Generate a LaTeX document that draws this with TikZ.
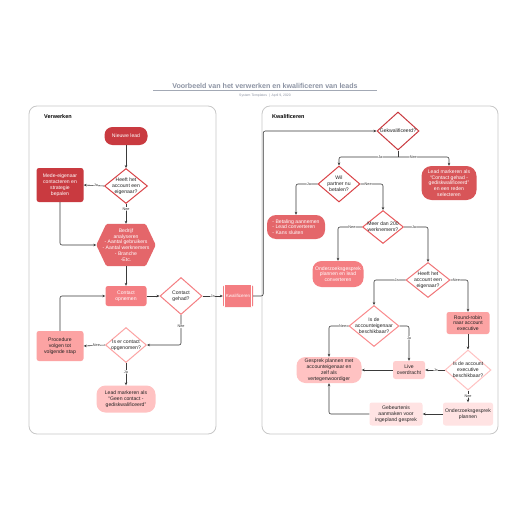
\documentclass[tikz,border=0pt]{standalone}
\usepackage{fontspec}
\setmainfont{Liberation Sans}
\usetikzlibrary{arrows.meta,shapes.geometric,calc}
\definecolor{cA}{HTML}{C93A40}
\definecolor{cB}{HTML}{D85558}
\definecolor{cC}{HTML}{E4666A}
\definecolor{cD}{HTML}{F47E82}
\definecolor{cE}{HTML}{FCA3A3}
\definecolor{cF}{HTML}{FFC2C2}
\definecolor{cG}{HTML}{FFCFCF}
\definecolor{cH}{HTML}{FFE3E3}
\definecolor{dA}{HTML}{D94347}
\definecolor{dB}{HTML}{E95B5E}
\definecolor{dC}{HTML}{F07578}
\definecolor{dD}{HTML}{FA8A8D}
\definecolor{cline}{HTML}{3A3A3A}
\definecolor{panel}{HTML}{C8C8C8}
\definecolor{ttl}{HTML}{8C93A3}
\definecolor{txt}{HTML}{222222}
\newcommand{\dtx}[1]{\raisebox{-3.4pt}{\smash{\makebox[0pt]{\begin{tabular}{@{}c@{}}#1\end{tabular}}}}}
\tikzset{
  base/.style={font=\fontsize{5.1}{5.8}\selectfont, align=center, inner sep=1pt, text=txt},
  boxnode/.style={base, rectangle, rounded corners=2.5pt, fill=#1},
  pill/.style={base, rectangle, rounded corners=9pt, fill=#1},
  dia/.style={shape=diamond, draw=#1, fill=white, line width=1pt, inner sep=0pt,
    font=\fontsize{5.1}{5.6}\selectfont, text=txt},
  conn/.style={draw=cline, line width=0.6pt, -{Stealth[length=3pt,width=2.6pt]}, rounded corners=2pt},
  plain/.style={draw=cline, line width=0.6pt},
  lbl/.style={fill=white, inner sep=0.4pt, font=\fontsize{3.8}{4}\selectfont, text=cline},
  panelbox/.style={draw=panel, line width=0.8pt, fill=white, rounded corners=8pt},
  head/.style={font=\bfseries\fontsize{5.5}{6}\selectfont, anchor=west, inner sep=0pt}
}
\begin{document}
\begin{tikzpicture}[x=1pt,y=-1pt]
\useasboundingbox (0,0) rectangle (516,516);
\fill[white] (0,0) rectangle (516,516);
% title
\node[font=\bfseries\fontsize{7.1}{7.5}\selectfont, text=ttl, inner sep=0pt] (title) at (265,86) {Voorbeeld van het verwerken en kwalificeren van leads};
\draw[ttl!80, line width=0.7pt] (153,90.5) -- (377,90.5);
\node[font=\fontsize{3.4}{4}\selectfont, text=ttl, inner sep=0pt] (sub) at (265,96) {System Templates \ | \ April 9, 2020};
% panels
\draw[panelbox] (29,106) rectangle (216,434);
\draw[panelbox] (262,106) rectangle (498,434);
\node[head] (h1) at (44,117) {Verwerken};
\node[head] (h2t) at (272,117) {Kwalificeren};

% ---------- left nodes
\node[pill=cA, text=white, minimum width=43pt, minimum height=18pt, rounded corners=8pt] (newlead) at (126,136) {Nieuwe lead};
\node[dia=dA, minimum width=43pt, minimum height=35pt] (d1) at (126,186) {\dtx{Heeft het\\account een\\eigenaar?}};
\node[boxnode=cA, text=white, minimum width=47pt, minimum height=34pt] (mede) at (60,185) {Mede-eigenaar\\contacteren en\\strategie\\bepalen};
\node[base, minimum width=59pt, minimum height=42pt, text=white] (hex) at (126,245) {};
\fill[cC, rounded corners=1.5pt] (hex.west) -- ($(hex.north west)+(10,0)$) -- ($(hex.north east)+(-10,0)$) -- (hex.east) -- ($(hex.south east)+(-10,0)$) -- ($(hex.south west)+(10,0)$) -- cycle;
\node[base, text=white] (hext) at (hex.center) {Bedrijf\\analyseren\\- Aantal gebruikers\\- Aantal werknemers\\- Branche\\-Etc.};
\node[boxnode=cD, text=white, minimum width=41pt, minimum height=20pt] (contact) at (126,296) {Contact\\opnemen};
\node[dia=cD, minimum width=42pt, minimum height=37pt] (d2) at (181,296) {\dtx{Contact\\gehad?}};
\node[boxnode=cD, text=white, minimum width=30pt, minimum height=22pt, rounded corners=1.5pt, inner sep=0pt, font=\fontsize{4.5}{5}\selectfont] (kwal) at (238,296) {Kwalificeren};
\draw[white, line width=0.5pt] ($(kwal.north west)+(1.8,0)$) -- ($(kwal.south west)+(1.8,0)$);
\draw[white, line width=0.5pt] ($(kwal.north east)+(-1.8,0)$) -- ($(kwal.south east)+(-1.8,0)$);
\node[dia=cE, minimum width=41pt, minimum height=35pt] (d3) at (126,345) {\dtx{Is er contact\\opgenomen?}};
\node[boxnode=cE, minimum width=47pt, minimum height=30pt] (proc) at (60,346) {Procedure\\volgen tot\\volgende stap};
\node[pill=cF, minimum width=59pt, minimum height=27pt] (geen) at (126,399) {Lead markeren als\\``Geen contact -\\gediskwalificeerd''};

% ---------- right nodes
\node[dia=cA, minimum width=42pt, minimum height=38pt] (g) at (398,131) {\dtx{Gekwalificeerd?}};
\coordinate (gs) at (398,157);
\node[dia=dA, minimum width=42pt, minimum height=36pt] (wil) at (339,184) {\dtx{Wil\\partner nu\\betalen?}};
\node[pill=cB, text=white, minimum width=55pt, minimum height=34pt, rounded corners=10pt] (lmc) at (449,183) {Lead markeren als\\``Contact gehad -\\gediskwalificeerd''\\en een reden\\selecteren};
\node[pill=cC, text=white, minimum width=58pt, minimum height=24pt, align=left] (bet) at (296,227) {- Betaling aannemen\\- Lead converteren\\- Kans sluiten};
\node[dia=dB, minimum width=41pt, minimum height=33pt] (m200) at (383,227) {\dtx{Meer dan 200\\werknemers?}};
\node[pill=cD, text=white, minimum width=51pt, minimum height=26pt] (ond1) at (338,274) {Onderzoeksgesprek\\plannen en lead\\converteren};
\node[dia=dC, minimum width=44pt, minimum height=35pt] (h2) at (428,280) {\dtx{Heeft het\\account een\\eigenaar?}};
\node[dia=dD, minimum width=50pt, minimum height=41pt] (iae) at (374,326) {\dtx{Is de\\accounteigenaar\\beschikbaar?}};
\node[boxnode=cE, minimum width=43pt, minimum height=22pt] (rr) at (468,323) {Round-robin\\naar account\\executive};
\node[dia=cF, minimum width=46pt, minimum height=40pt] (iaex) at (468,370) {\dtx{Is de account\\executive\\beschikbaar?}};
\node[boxnode=cG, minimum width=32pt, minimum height=18pt] (live) at (409,370) {Live\\overdracht};
\node[pill=cF, minimum width=65pt, minimum height=26pt] (gesp) at (329,370) {Gesprek plannen met\\accounteigenaar en\\zelf als\\vertegenwoordiger};
\node[boxnode=cH, minimum width=50pt, minimum height=23pt] (ond2) at (468,414) {Onderzoeksgesprek\\plannen};
\node[boxnode=cH, minimum width=53pt, minimum height=23pt] (geb) at (396,414) {Gebeurtenis\\aanmaken voor\\ingepland gesprek};

% ---------- left connectors
\draw[conn] (newlead.south) -- (d1.north);
\draw[conn] (d1.west) -- node[lbl, pos=0.4]{Ja} (mede.east);
\draw[conn] (d1.south) -- node[lbl, pos=0.25]{Nee} (hex.north);
\draw[conn] (mede.south) |- (hex.west);
\draw[conn] (hex.south) -- (contact.north);
\draw[conn] (contact.east) -- (d2.west);
\draw[conn] (d2.east) -- node[lbl, pos=0.5]{Ja} (kwal.west);
\draw[conn] (d2.south) |- node[lbl, pos=0.19]{Nee} (d3.east);
\draw[conn] (d3.west) -- node[lbl, pos=0.4]{Nee} (proc.east);
\draw[conn] (proc.north) |- (contact.west);
\draw[conn] (d3.south) -- node[lbl, pos=0.4]{Ja} (geen.north);
\draw[conn] (kwal.east) -- ++(10,0) |- (g.west);

% ---------- right connectors
\draw[plain] (g.south) -- (gs);
\draw[conn] (gs) -| node[lbl, pos=0.15]{Ja} (wil.north);
\draw[conn] (gs) -| node[lbl, pos=0.15]{Nee} (lmc.north);
\draw[conn] (wil.west) -| node[lbl, pos=0.2]{Ja} (bet.north);
\draw[conn] (wil.east) -| node[lbl, pos=0.17]{Nee} (m200.north);
\draw[conn] (m200.west) -| node[lbl, pos=0.21]{Nee} (ond1.north);
\draw[conn] (m200.east) -| node[lbl, pos=0.21]{Ja} (h2.north);
\draw[conn] (h2.west) -| node[lbl, pos=0.14]{Ja} (iae.north);
\draw[conn] (h2.east) -| node[lbl, pos=0.17]{Nee} (rr.north);
\draw[conn] (rr.south) -- (iaex.north);
\draw[conn] (iae.west) -| node[lbl, pos=0.15]{Nee} (gesp.north);
\draw[conn] (iae.east) -| node[lbl, pos=0.67]{Ja} (live.north);
\draw[conn] (iaex.west) -- node[lbl, pos=0.45]{Ja} (live.east);
\draw[conn] (live.west) -- (gesp.east);
\draw[conn] (iaex.south) -- node[lbl, pos=0.45]{Nee} (ond2.north);
\draw[conn] (ond2.west) -- (geb.east);
\draw[conn] (geb.west) -| (gesp.south);
\end{tikzpicture}
\end{document}
